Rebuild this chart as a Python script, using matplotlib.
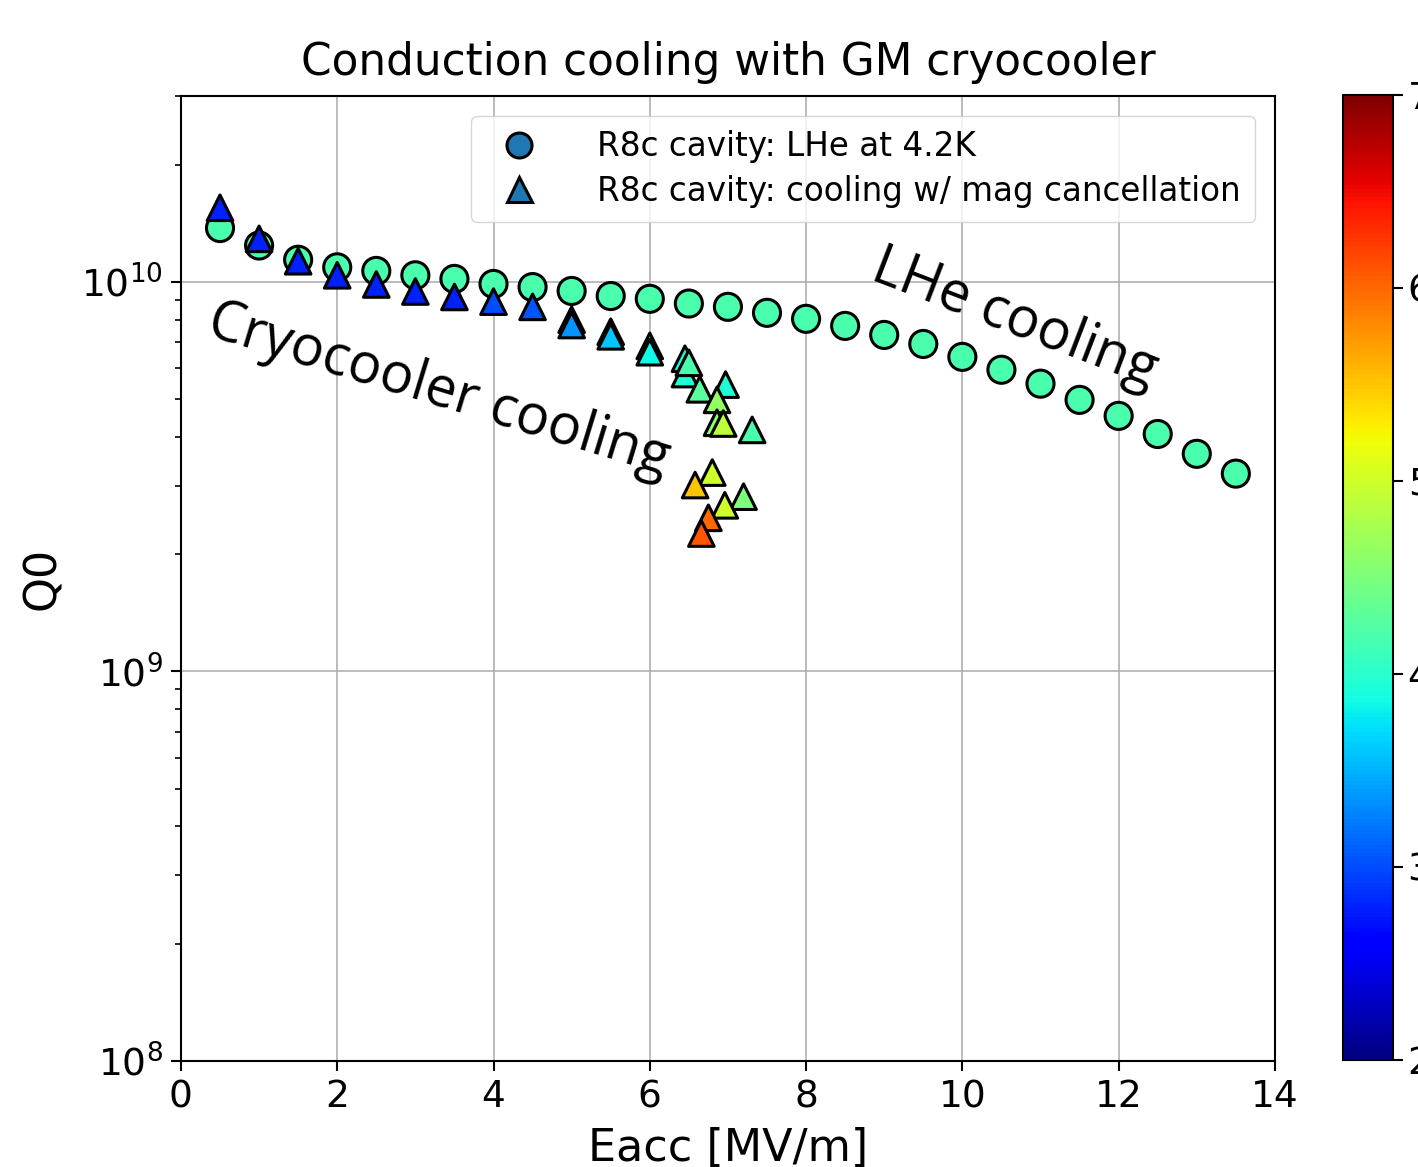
import numpy as np
import matplotlib.pyplot as plt
from matplotlib.lines import Line2D

# LHe bath at 4.2 K
eacc_lhe = [0.5, 1.0, 1.5, 2.0, 2.5, 3.0, 3.5, 4.0, 4.5, 5.0, 5.5, 6.0, 6.5, 7.0,
            7.5, 8.0, 8.5, 9.0, 9.5, 10.0, 10.5, 11.0, 11.5, 12.0, 12.5, 13.0, 13.5]
q0_lhe = [1.375e10, 1.24e10, 1.14e10, 1.09e10, 1.067e10, 1.04e10, 1.018e10, 0.988e10,
          0.97e10, 0.948e10, 0.92e10, 0.905e10, 0.88e10, 0.863e10, 0.833e10, 0.804e10,
          0.771e10, 0.731e10, 0.693e10, 0.642e10, 0.595e10, 0.548e10, 0.498e10,
          0.453e10, 0.407e10, 0.362e10, 0.322e10]
temp_lhe = [4.2] * len(eacc_lhe)

# Cryocooler conduction cooling (temperature in K as colour)
eacc_cc = [0.5, 1.0, 1.5, 2.0, 2.5, 3.0, 3.5, 4.0, 4.5, 5.0, 5.0, 5.5, 5.5, 6.0, 6.0,
           6.45, 6.45, 6.5, 6.64, 6.97, 6.86, 6.86, 6.94, 7.31, 6.8, 6.58, 7.2, 6.96,
           6.75, 6.66]
q0_cc = [1.55e10, 1.29e10, 1.13e10, 1.04e10, 0.985e10, 0.945e10, 0.915e10, 0.89e10,
         0.863e10, 0.80e10, 0.775e10, 0.745e10, 0.725e10, 0.685e10, 0.66e10,
         0.635e10, 0.58e10, 0.62e10, 0.53e10, 0.545e10, 0.498e10, 0.435e10,
         0.433e10, 0.417e10, 0.324e10, 0.301e10, 0.281e10, 0.267e10, 0.248e10,
         0.226e10]
temp_cc = [2.8, 2.8, 2.8, 2.8, 2.8, 2.8, 2.8, 3.0, 3.05, 3.3, 3.35, 3.6, 3.6, 3.85, 3.85,
           3.9, 3.95, 4.2, 4.3, 3.95, 4.65, 4.6, 4.9, 4.2, 5.0, 5.5, 4.5, 5.0, 6.0, 6.1]

fig = plt.figure(figsize=(14.18, 11.67), dpi=100)
ax = fig.add_axes([0.1276, 0.0908, 0.7715, 0.8269])
cax = fig.add_axes([0.9471, 0.0917, 0.0353, 0.8269])

ax.grid(True, color='#b0b0b0', linewidth=1.2)
ax.set_axisbelow(True)

sc = ax.scatter(eacc_lhe, q0_lhe, c=temp_lhe, cmap='jet', vmin=2, vmax=7,
                marker='o', s=380, edgecolors='black', linewidths=2.2, zorder=3)
ax.scatter(eacc_cc, q0_cc, c=temp_cc, cmap='jet', vmin=2, vmax=7,
           marker='^', s=340, edgecolors='black', linewidths=2.2, zorder=4)

ax.set_yscale('log')
ax.set_xlim(0, 14)
ax.set_ylim(1e8, 3e10)
ax.set_xlabel('Eacc [MV/m]', fontsize=32, labelpad=8)
ax.set_ylabel('Q0', fontsize=32, labelpad=12)
ax.set_title('Conduction cooling with GM cryocooler', fontsize=31.5, pad=15)
ax.tick_params(axis='both', which='major', labelsize=27, length=7, width=1.5, pad=6)
ax.tick_params(axis='y', which='minor', length=4, width=1.2)
for s in ax.spines.values():
    s.set_linewidth(1.5)

handles = [
    Line2D([], [], linestyle='none', marker='o', markersize=18, markerfacecolor='#1f77b4',
           markeredgecolor='black', markeredgewidth=2.2),
    Line2D([], [], linestyle='none', marker='^', markersize=18, markerfacecolor='#1f77b4',
           markeredgecolor='black', markeredgewidth=2.2),
]
ax.legend(handles, ['R8c cavity: LHe at 4.2K', 'R8c cavity: cooling w/ mag cancellation'],
          loc='upper right', fontsize=23.5, handletextpad=1.4, borderpad=0.45,
          labelspacing=0.35, borderaxespad=0.6)

ax.text(3.3, 5.25e9, 'Cryocooler cooling', family='Open Sans', fontsize=40,
        rotation=-17, ha='center', va='center', rotation_mode='anchor')
ax.text(10.67, 8.0e9, 'LHe cooling', family='Open Sans', fontsize=40,
        rotation=-21, ha='center', va='center', rotation_mode='anchor')

cb = fig.colorbar(sc, cax=cax)
cb.set_ticks([2, 3, 4, 5, 6, 7])
cb.ax.tick_params(labelsize=27, length=7, width=1.5)
cb.outline.set_linewidth(1.5)

fig.savefig('out.png', dpi=100)
